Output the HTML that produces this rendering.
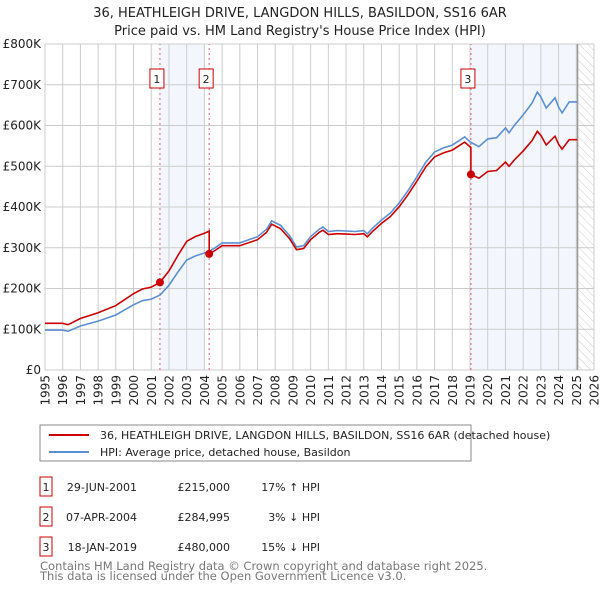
<!DOCTYPE html>
<html><head><meta charset="utf-8"><style>
body{margin:0;background:#fff;font-family:"DejaVu Sans","Liberation Sans",sans-serif;}
svg text{font-family:"DejaVu Sans","Liberation Sans",sans-serif;}
</style></head><body>
<svg id="c" width="600" height="590" xmlns="http://www.w3.org/2000/svg">
<defs><pattern id="hatch" width="6" height="6" patternUnits="userSpaceOnUse" patternTransform="rotate(-45)"><line x1="0" y1="0" x2="0" y2="6" stroke="#ccc" stroke-width="1"/></pattern></defs>
<text x="300" y="17" text-anchor="middle" font-size="13" fill="#222">36, HEATHLEIGH DRIVE, LANGDON HILLS, BASILDON, SS16 6AR</text>
<text x="300" y="35" text-anchor="middle" font-size="13" fill="#222">Price paid vs. HM Land Registry's House Price Index (HPI)</text>
<g id="plot"></g>
<rect x="40" y="425" width="431" height="36" fill="#fff" stroke="#888"/>
<line x1="49" y1="435" x2="89" y2="435" stroke="#cc0000" stroke-width="2"/>
<text x="100" y="439" font-size="11" fill="#222">36, HEATHLEIGH DRIVE, LANGDON HILLS, BASILDON, SS16 6AR (detached house)</text>
<line x1="49" y1="452" x2="89" y2="452" stroke="#5b8fd4" stroke-width="2"/>
<text x="100" y="456" font-size="11" fill="#222">HPI: Average price, detached house, Basildon</text>
<g id="tbl"></g>
<text x="40" y="570" font-size="11.5" fill="#777">Contains HM Land Registry data © Crown copyright and database right 2025.</text>
<text x="40" y="580" font-size="11.5" fill="#777">This data is licensed under the Open Government Licence v3.0.</text>
</svg>
<script>
const hpiYears=[1995,1996,1996.3,1997,1998,1999,2000,2000.5,2001,2001.5,2002,2002.5,2003,2003.5,2004,2004.3,2004.6,2005,2006,2007,2007.5,2007.8,2008.3,2008.8,2009.2,2009.6,2010,2010.5,2010.7,2011,2011.5,2012,2012.5,2013,2013.2,2013.5,2014,2014.5,2015,2015.5,2016,2016.5,2017,2017.5,2018,2018.7,2019,2019.5,2020,2020.5,2021,2021.2,2021.5,2022,2022.5,2022.8,2023,2023.3,2023.8,2024,2024.2,2024.6,2025.05];
const hpiValues=[98000,98000,95000,108000,120000,135000,160000,170000,174000,184000,208000,240000,270000,280000,287000,292000,300000,312000,312000,327000,345000,366000,355000,330000,302000,305000,327000,346000,351000,340000,342000,341000,340000,342000,334000,348000,368000,385000,410000,440000,474000,510000,535000,545000,552000,572000,560000,548000,567000,570000,594000,582000,600000,626000,655000,682000,670000,643000,668000,645000,631000,658000,658000];
const saleLabels=["1","2","3"];
const saleDates=["29-JUN-2001","07-APR-2004","18-JAN-2019"];
const saleYears=[2001.49,2004.27,2019.05];
const salePrices=[215000,284995,480000];
const saleHpiText=["17% \u2191 HPI","3% \u2193 HPI","15% \u2193 HPI"];
const yTicks=[0,100000,200000,300000,400000,500000,600000,700000,800000];
const yTickLabels=["£0","£100K","£200K","£300K","£400K","£500K","£600K","£700K","£800K"];
const xTicks=[1995,1996,1997,1998,1999,2000,2001,2002,2003,2004,2005,2006,2007,2008,2009,2010,2011,2012,2013,2014,2015,2016,2017,2018,2019,2020,2021,2022,2023,2024,2025,2026];
const dataEnd=2025.07;

const NS="http://www.w3.org/2000/svg";
const X=y=>45+(y-1995)*(549/31);
const Y=v=>370-v*(326/800000);
const g=document.getElementById('plot');
function mk(t,a,p){const e=document.createElementNS(NS,t);for(const k in a)e.setAttribute(k,a[k]);(p||g).appendChild(e);return e;}
function hpiAt(t){for(let i=0;i<hpiYears.length-1;i++){if(t<=hpiYears[i+1]){const f=(t-hpiYears[i])/(hpiYears[i+1]-hpiYears[i]);return hpiValues[i]+f*(hpiValues[i+1]-hpiValues[i]);}}return hpiValues[hpiValues.length-1];}
let e=mk('rect',{x:X(saleYears[0]),y:Y(800000),width:X(2004)-X(saleYears[0]),height:Y(0)-Y(800000),fill:'#eef3fc',opacity:0.7});

e=mk('rect',{x:X(saleYears[2]),y:Y(800000),width:X(dataEnd)-X(saleYears[2]),height:Y(0)-Y(800000),fill:'#eef3fc',opacity:0.7});

e=mk('rect',{x:X(dataEnd),y:Y(800000),width:X(2026)-X(dataEnd),height:Y(0)-Y(800000),fill:'url(#hatch)'});

yTicks.forEach((v,i)=>{let l=mk('line',{x1:X(1995),x2:X(2026),y1:Y(v),y2:Y(v),stroke:'#ccc'});

let t=mk('text',{x:41,y:Y(v)+4,'text-anchor':'end','font-size':12,fill:'#222'});t.textContent=yTickLabels[i];
});
xTicks.forEach(yr=>{let l=mk('line',{x1:X(yr),x2:X(yr),y1:Y(0),y2:Y(800000),stroke:'#ccc'});

const tx=X(yr)+4.5;
let t=mk('text',{x:tx,y:375,'text-anchor':'end','font-size':12,fill:'#222',transform:'rotate(-90 '+tx+' 375)'});t.textContent=yr;
});
e=mk('line',{x1:X(dataEnd),x2:X(dataEnd),y1:Y(0),y2:Y(800000),stroke:'#999','stroke-width':1.5});

saleYears.forEach((s,i)=>{let l=mk('line',{x1:X(s),x2:X(s),y1:Y(0),y2:Y(800000),stroke:'#e06070','stroke-dasharray':'2,3'});
});
let d=hpiYears.map((t,i)=>(i?'L':'M')+X(t).toFixed(1)+','+Y(hpiValues[i]).toFixed(1)).join(' ');
e=mk('path',{d:d,fill:'none',stroke:'#5b8fd4','stroke-width':1.6});

let pts=[];
function ratioAt(t){let k=0;for(let i=0;i<saleYears.length;i++)if(t>=saleYears[i])k=i;return salePrices[k]/hpiAt(saleYears[k]);}
let times=hpiYears.slice();saleYears.forEach(s=>{times.push(s-0.001);times.push(s);});times.sort((a,b)=>a-b);
times.forEach(t=>pts.push([X(t),Y(hpiAt(t)*ratioAt(t))]));
d=pts.map((p,i)=>(i?'L':'M')+p[0].toFixed(1)+','+p[1].toFixed(1)).join(' ');
e=mk('path',{d:d,fill:'none',stroke:'#cc0000','stroke-width':1.6});

saleYears.forEach((s,i)=>{let c=mk('circle',{cx:X(s),cy:Y(salePrices[i]),r:4,fill:'#cc0000'});

let r=mk('rect',{x:X(s)-10,y:69,width:14,height:19,fill:'#fff',stroke:'#cc0000'});

let t=mk('text',{x:X(s)-3,y:83,'text-anchor':'middle','font-size':11,fill:'#222'});t.textContent=saleLabels[i];
});
const tb=document.getElementById('tbl');
saleLabels.forEach((lab,i)=>{const yy=477+i*30;
let r=mk('rect',{x:40,y:yy,width:12,height:19,fill:'#fff',stroke:'#cc0000'},tb);

let t=mk('text',{x:46,y:yy+14,'text-anchor':'middle','font-size':11,fill:'#222'},tb);t.textContent=lab;

t=mk('text',{x:137,y:yy+14,'text-anchor':'end','font-size':11,fill:'#222'},tb);t.textContent=saleDates[i];

t=mk('text',{x:230,y:yy+14,'text-anchor':'end','font-size':11,fill:'#222'},tb);t.textContent='£'+salePrices[i].toLocaleString('en-GB');

t=mk('text',{x:320,y:yy+14,'text-anchor':'end','font-size':11,fill:'#222'},tb);t.textContent=saleHpiText[i];
});
</script>
</body></html>
